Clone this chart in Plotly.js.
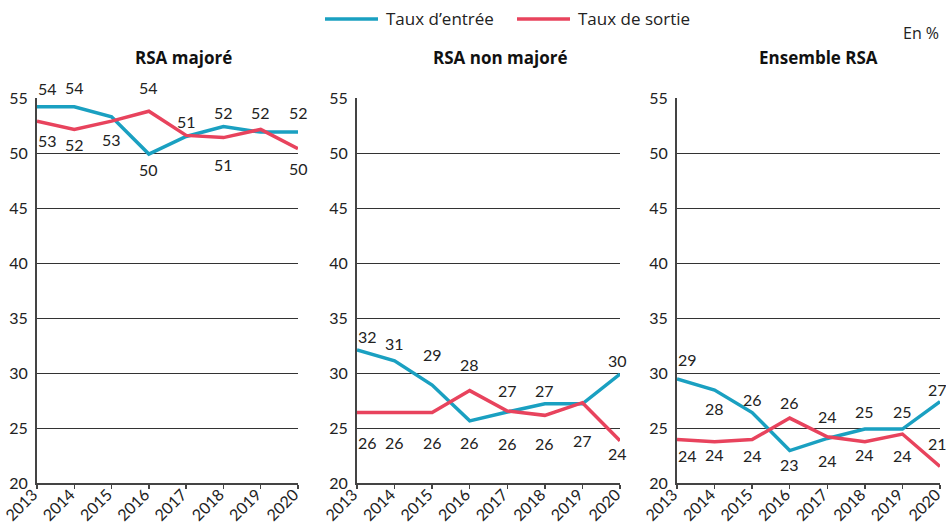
<!DOCTYPE html>
<html>
<head>
<meta charset="utf-8">
<script src="https://cdn.plot.ly/plotly-3.0.1.min.js"></script>
<style>html,body{margin:0;padding:0;background:#fff;}#chart{width:946px;height:527px;}</style>
</head>
<body>
<div id="chart"></div>
<script>
// ---- Data ----
const years = [2013, 2014, 2015, 2016, 2017, 2018, 2019, 2020];
const seriesNames = ["Taux d’entrée", "Taux de sortie"];
const panelTitles = ["RSA majoré", "RSA non majoré", "Ensemble RSA"];

const entreeMajore    = [54.2, 54.2, 53.3, 49.9, 51.5, 52.4, 51.9, 51.9];
const sortieMajore    = [52.9, 52.15, 52.9, 53.8, 51.6, 51.4, 52.15, 50.4];
const entreeNonMajore = [32.1, 31.1, 28.9, 25.65, 26.45, 27.2, 27.2, 29.9];
const sortieNonMajore = [26.4, 26.4, 26.4, 28.4, 26.55, 26.15, 27.3, 23.85];
const entreeEnsemble  = [29.45, 28.45, 26.4, 22.95, 24.05, 24.9, 24.9, 27.4];
const sortieEnsemble  = [23.95, 23.75, 23.95, 25.9, 24.2, 23.75, 24.45, 21.5];

// data labels as printed ('' = no label shown)
const labEntreeMajore    = ["54", "54", "", "50", "51", "52", "52", "52"];
const labSortieMajore    = ["53", "52", "53", "54", "", "51", "", "50"];
const labEntreeNonMajore = ["32", "31", "29", "26", "26", "27", "", "30"];
const labSortieNonMajore = ["26", "26", "26", "28", "27", "26", "27", "24"];
const labEntreeEnsemble  = ["29", "28", "26", "23", "24", "25", "25", "27"];
const labSortieEnsemble  = ["24", "24", "24", "26", "24", "24", "24", "21"];

const yTicks = [20, 25, 30, 35, 40, 45, 50, 55];

// ---- Styles / label placement (pixels) ----
const BLUE = "#1aa0c1", RED = "#e8435d";
const shiftEntreeMajore    = [18, 19, 0, -15, 15, 14, 20, 20];
const shiftSortieMajore    = [-19, -15, -18, 24, 0, -27, 0, -20];
const shiftEntreeNonMajore = [13, 17, 31, -22, -31, 13, 0, 14];
const shiftSortieNonMajore = [-30, -30, -30, 26, 20, -28, -38, -13];
const shiftEntreeEnsemble  = [20, -18, 13, -14, 22, 18, 18, 12];
const shiftSortieEnsemble  = [-16, -13, -16, 16, -24, -13, -21, 23];

const panels = [
  {e: entreeMajore, s: sortieMajore, le: labEntreeMajore, ls: labSortieMajore, se: shiftEntreeMajore, ss: shiftSortieMajore},
  {e: entreeNonMajore, s: sortieNonMajore, le: labEntreeNonMajore, ls: labSortieNonMajore, se: shiftEntreeNonMajore, ss: shiftSortieNonMajore},
  {e: entreeEnsemble, s: sortieEnsemble, le: labEntreeEnsemble, ls: labSortieEnsemble, se: shiftEntreeEnsemble, ss: shiftSortieEnsemble}
];

const W = 946, H = 527;
const xDomPx = [[37, 298], [357, 620], [677, 940]];
const yDom = [(H - 483) / H, (H - 98) / H];
const FONT = "Lato, 'Open Sans', sans-serif";
const TFONT = "'Open Sans', 'Noto Sans', sans-serif";

const traces = [];
const annotations = [];
const layout = {
  width: W, height: H,
  margin: {l: 0, r: 0, t: 0, b: 0},
  paper_bgcolor: "#ffffff", plot_bgcolor: "#ffffff",
  showlegend: false,
  font: {family: FONT, size: 16, color: "#222"},
  shapes: []
};

panels.forEach((p, i) => {
  const sfx = i === 0 ? "" : String(i + 1);
  const xa = "x" + sfx, ya = "y" + sfx;
  [[p.e, BLUE, seriesNames[0]], [p.s, RED, seriesNames[1]]].forEach(([vals, col, nm]) => {
    traces.push({
      type: "scatter", mode: "lines", x: years, y: vals, name: nm,
      xaxis: xa, yaxis: ya, cliponaxis: false,
      line: {color: col, width: 3.5}, hoverinfo: "x+y"
    });
  });
  [[p.e, p.le, p.se], [p.s, p.ls, p.ss]].forEach(([vals, labs, shifts]) => {
    vals.forEach((v, k) => {
      if (!labs[k]) return;
      annotations.push({
        xref: xa, yref: ya, x: years[k], y: v, text: labs[k],
        showarrow: false, xanchor: "center", yanchor: "middle",
        yshift: shifts[k], xshift: k === 0 ? 10 : (k === years.length - 1 && i > 0 ? -3 : 0),
        font: {family: FONT, size: 16, color: "#222"}
      });
    });
  });
  layout["xaxis" + sfx] = {
    domain: [xDomPx[i][0] / W, xDomPx[i][1] / W],
    anchor: ya, range: [2013, 2020], tickvals: years, ticktext: years.map(String),
    tickangle: -45, ticks: "outside", ticklen: 4, tickwidth: 1.5, tickcolor: "#444",
    ticklabelstandoff: -10, ticklabelshift: -4, ticklabeloverflow: "allow",
    showline: true, linecolor: "#444", linewidth: 2, showgrid: false, zeroline: false,
    tickfont: {family: FONT, size: 16, color: "#222"}, fixedrange: true
  };
  layout["yaxis" + sfx] = {
    domain: yDom, anchor: xa, range: [20, 55], tickvals: yTicks,
    ticks: "", showline: true, linecolor: "#444", linewidth: 2,
    showgrid: true, gridcolor: "#333", gridwidth: 1, zeroline: false,
    ticklabelstandoff: 4,
    tickfont: {family: FONT, size: 16, color: "#222"}, fixedrange: true
  };
});

// panel titles
const titleX = [183, 500, 818];
panelTitles.forEach((t, i) => {
  annotations.push({
    xref: "paper", yref: "paper", x: titleX[i] / W, y: 1 - 57 / H, text: "<b>" + t + "</b>",
    showarrow: false, xanchor: "center", yanchor: "middle",
    font: {family: TFONT, size: 17, color: "#111"}
  });
});

// legend (manual)
const legItems = [
  {x0: 325, x1: 378, tx: 384, col: BLUE, text: seriesNames[0]},
  {x0: 517, x1: 570, tx: 576, col: RED, text: seriesNames[1]}
];
legItems.forEach(it => {
  layout.shapes.push({
    type: "line", xref: "paper", yref: "paper",
    x0: it.x0 / W, x1: it.x1 / W, y0: 1 - 19 / H, y1: 1 - 19 / H,
    line: {color: it.col, width: 3.5}
  });
  annotations.push({
    xref: "paper", yref: "paper", x: it.tx / W, y: 1 - 19 / H, text: it.text,
    showarrow: false, xanchor: "left", yanchor: "middle",
    font: {family: TFONT, size: 17, color: "#222"}
  });
});
annotations.push({
  xref: "paper", yref: "paper", x: 941 / W, y: 1 - 33 / H, text: "En %",
  showarrow: false, xanchor: "right", yanchor: "middle",
  font: {family: TFONT, size: 16, color: "#222"}
});

layout.annotations = annotations;
Plotly.newPlot("chart", traces, layout, {displayModeBar: false, staticPlot: true});
</script>
</body>
</html>
